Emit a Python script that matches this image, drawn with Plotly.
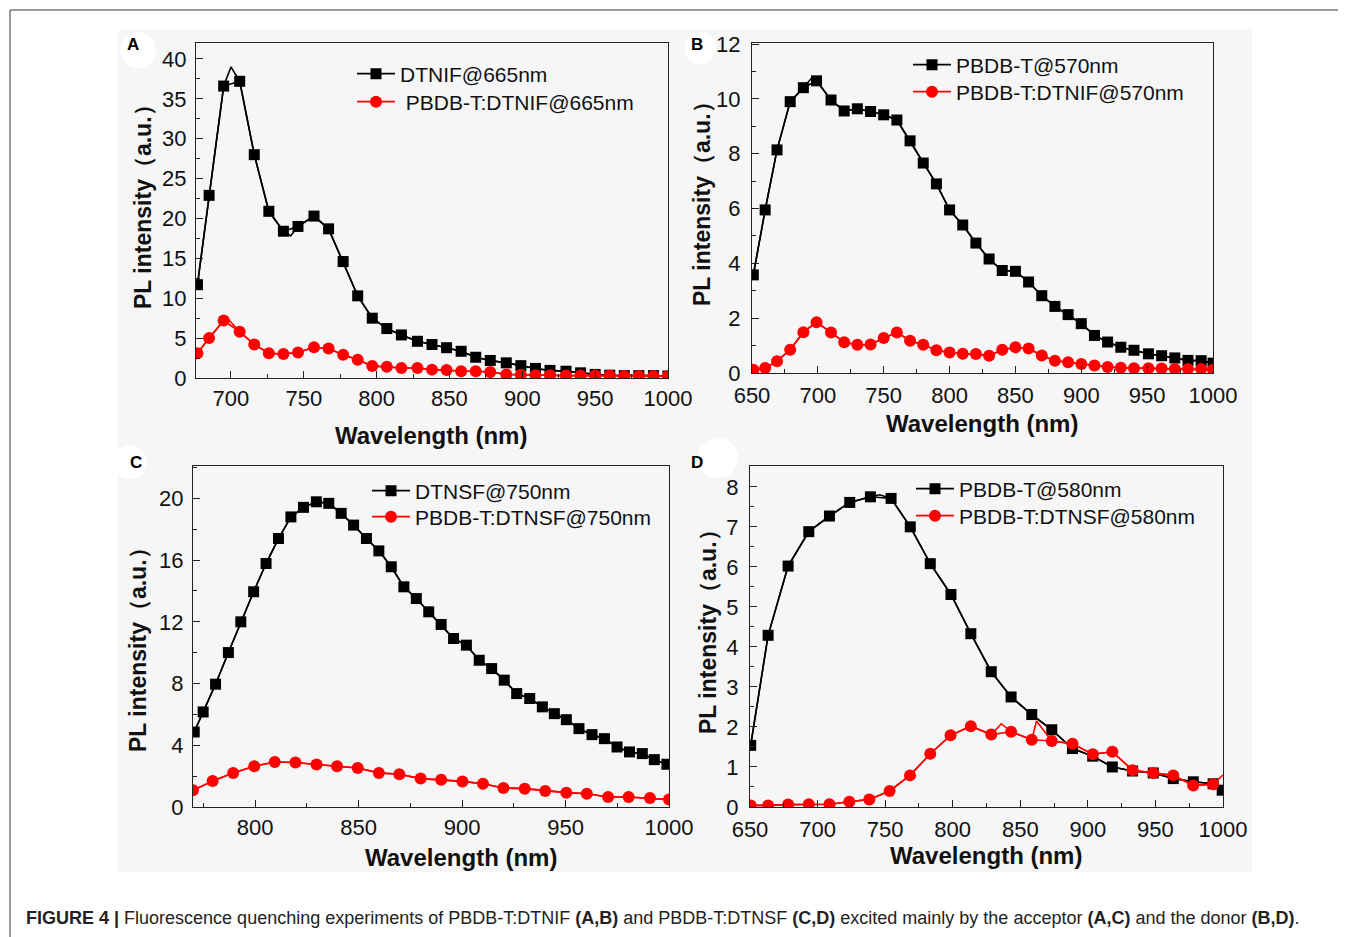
import plotly.graph_objects as go

W, H = 1346, 937
OFF = 8  # the page body adds an 8 px margin around the figure

# ---------------- data ----------------
# Panel A : DTNIF excited at 665 nm
a_x = [677, 685, 695, 706, 716, 726, 736, 746, 757, 767, 777, 787, 797, 807, 817, 828, 838,
       848, 858, 868, 878, 889, 899, 909, 919, 930, 940, 950, 960, 970, 980, 990, 1000]
a_black = [11.7, 22.9, 36.6, 37.2, 28.0, 20.9, 18.4, 19.0, 20.3, 18.7, 14.6, 10.3, 7.5, 6.2, 5.4,
           4.6, 4.2, 3.8, 3.35, 2.6, 2.2, 1.9, 1.55, 1.2, 0.95, 0.85, 0.65, 0.45, 0.35, 0.3, 0.3,
           0.3, 0.25]
a_red = [3.1, 5.0, 7.2, 5.8, 4.2, 3.1, 3.0, 3.2, 3.85, 3.7, 2.9, 2.3, 1.5, 1.4, 1.25, 1.25, 1.05,
         1.0, 0.85, 0.85, 0.75, 0.45, 0.4, 0.35, 0.35, 0.3, 0.3, 0.3, 0.3, 0.25, 0.25, 0.25, 0.25]
a_black_peak_x = [700, 741]
a_black_peak_y = [39.0, 17.8]
a_red_peak_x = [697]
a_red_peak_y = [7.6]

# Panel B : PBDB-T excited at 570 nm
b_x = [651, 660, 669, 679, 689, 699, 710, 720, 730, 740, 750, 760, 770, 780, 790, 800, 810, 820,
       830, 840, 850, 860, 870, 880, 890, 900, 910, 920, 930, 940, 951, 961, 971, 981, 991, 1000]
b_black = [3.58, 5.95, 8.14, 9.9, 10.41, 10.66, 9.96, 9.56, 9.64, 9.54, 9.42, 9.23, 8.47, 7.66,
           6.9, 5.95, 5.4, 4.74, 4.16, 3.74, 3.71, 3.32, 2.82, 2.43, 2.13, 1.80, 1.37, 1.13, 0.94,
           0.83, 0.70, 0.63, 0.55, 0.46, 0.45, 0.36]
b_red = [0.12, 0.18, 0.43, 0.85, 1.49, 1.85, 1.48, 1.12, 1.03, 1.04, 1.28, 1.48, 1.18, 1.03, 0.83,
         0.75, 0.70, 0.69, 0.63, 0.85, 0.94, 0.89, 0.64, 0.45, 0.39, 0.33, 0.27, 0.22, 0.19, 0.17,
         0.17, 0.16, 0.15, 0.15, 0.15, 0.12]
b_black_peak_x = [695]
b_black_peak_y = [10.75]

# Panel C : DTNSF excited at 750 nm
c_black_x = [770.6, 774.9, 780.9, 787.1, 793.1, 799.3, 805.3, 811.3, 817.3, 823.4, 829.6, 835.6,
             841.6, 847.6, 853.8, 859.8, 865.8, 871.9, 877.9, 883.9, 889.9, 895.9, 902.1, 908.3,
             914.3, 920.4, 926.4, 932.7, 938.8, 944.6, 950.4, 956.5, 962.8, 968.8, 974.9, 980.9,
             987.1, 992.9, 999]
c_black = [4.86, 6.16, 7.96, 10.01, 12.0, 13.95, 15.78, 17.4, 18.8, 19.42, 19.78, 19.68, 19.03,
           18.27, 17.4, 16.6, 15.57, 14.27, 13.51, 12.65, 11.83, 10.92, 10.49, 9.51, 8.97, 8.22,
           7.35, 7.03, 6.49, 6.05, 5.66, 5.08, 4.69, 4.43, 3.89, 3.57, 3.46, 3.07, 2.77]
c_red_x = [770, 779.5, 789.4, 799.6, 809.5, 819.5, 829.7, 839.6, 849.6, 859.8, 869.7, 880, 889.9,
           900.2, 910.1, 920, 930.3, 940.2, 950.4, 960.3, 970.6, 980.5, 990.8, 1000]
c_red = [1.08, 1.69, 2.21, 2.64, 2.92, 2.88, 2.75, 2.64, 2.53, 2.21, 2.12, 1.84, 1.77, 1.66, 1.51,
         1.23, 1.19, 1.04, 0.93, 0.86, 0.65, 0.65, 0.58, 0.48]

# Panel D : PBDB-T excited at 580 nm
d_black_x = [650.5, 663.4, 678.2, 693.5, 708.8, 723.8, 739.1, 754.4, 768.6, 783.4, 798.7, 813.4,
             828.5, 843.2, 858.5, 873.3, 888.6, 903.6, 918.1, 933.1, 948.4, 963.2, 978, 992.7, 999.4]
d_black = [1.54, 4.29, 6.02, 6.88, 7.27, 7.61, 7.75, 7.71, 7.0, 6.08, 5.31, 4.33, 3.38, 2.75, 2.31,
           1.93, 1.46, 1.27, 1.0, 0.9, 0.85, 0.71, 0.63, 0.58, 0.42]
d_red_x = [650.5, 663.4, 678.2, 693.5, 708.8, 723.5, 738.3, 753.3, 768.4, 783.4, 798.4, 813.4,
           828.5, 843.2, 858.5, 873.3, 888.6, 903.6, 918.1, 933.1, 948.4, 963.2, 978, 992.7]
d_red = [0.04, 0.04, 0.06, 0.07, 0.07, 0.13, 0.19, 0.40, 0.79, 1.33, 1.79, 2.02, 1.81, 1.88, 1.68,
         1.65, 1.58, 1.32, 1.38, 0.92, 0.85, 0.79, 0.54, 0.57]
d_black_peak_x = [746]
d_black_peak_y = [7.8]
d_red_peak_x = [836, 862, 1000]
d_red_peak_y = [2.08, 2.15, 0.8]

legend_names = {
    "A": ["DTNIF@665nm", " PBDB-T:DTNIF@665nm"],
    "B": ["PBDB-T@570nm", "PBDB-T:DTNIF@570nm"],
    "C": ["DTNSF@750nm", "PBDB-T:DTNSF@750nm"],
    "D": ["PBDB-T@580nm", "PBDB-T:DTNSF@580nm"],
}

# ---------------- helpers ----------------
def px(x):
    return (x - OFF) / W


def py(y):
    return 1 - (y - OFF) / H


def merged(xs, ys, ex, ey):
    pts = sorted(list(zip(xs, ys)) + list(zip(ex, ey)))
    return [p[0] for p in pts], [p[1] for p in pts]


FONT = "Arial, Liberation Sans, sans-serif"
BLACK = "#000000"
RED = "#ff0000"

fig = go.Figure()

# panel definitions: pixel boxes (left, right, top, bottom)
panels = {
    "A": dict(box=(196, 668, 43, 378), xr=[676, 1000], yr=[0, 42], xd=50, x0=700, xm=25,
              yd=5, ym=2.5, ax="x", ay="y", xso=0, yso=4),
    "B": dict(box=(752, 1213, 43, 373), xr=[650, 1000], yr=[0, 12.04], xd=50, x0=650, xm=25,
              yd=2, ym=1, ax="x2", ay="y2", xso=2, yso=6),
    "C": dict(box=(193, 669, 466, 807), xr=[770, 1000], yr=[0, 22.1], xd=50, x0=800, xm=25,
              yd=4, ym=2, ax="x3", ay="y3", xso=0, yso=4),
    "D": dict(box=(750, 1223, 466, 807), xr=[650, 1000], yr=[0, 8.52], xd=50, x0=650, xm=25,
              yd=1, ym=0.5, ax="x4", ay="y4", xso=2, yso=6),
}

series = {
    "A": [(a_x, a_black, a_black_peak_x, a_black_peak_y),
          (a_x, a_red, a_red_peak_x, a_red_peak_y)],
    "B": [(b_x, b_black, b_black_peak_x, b_black_peak_y),
          (b_x, b_red, [], [])],
    "C": [(c_black_x, c_black, [], []),
          (c_red_x, c_red, [], [])],
    "D": [(d_black_x, d_black, d_black_peak_x, d_black_peak_y),
          (d_red_x, d_red, d_red_peak_x, d_red_peak_y)],
}

# legend item positions: (symbol start x, row centre y) for black and red rows
legend_pos = {
    "A": [(357, 74), (357, 102)],
    "B": [(913, 65), (913, 92)],
    "C": [(372, 491), (372, 517)],
    "D": [(916, 489), (916, 516)],
}

layout = dict(width=W, height=H, margin=dict(l=0, r=0, t=0, b=0, pad=0, autoexpand=False),
              template="none", autosize=False,
              paper_bgcolor="white", plot_bgcolor="rgba(0,0,0,0)",
              font=dict(family=FONT, color="#111111", size=21), showlegend=True)

lg_index = 1
for key, p in panels.items():
    for i, (xs, ys, ex, ey) in enumerate(series[key]):
        color = BLACK if i == 0 else RED
        lx, ly = merged(xs, ys, ex, ey)
        lg = "legend" if lg_index == 1 else "legend%d" % lg_index
        # underlying spectrum line
        fig.add_trace(go.Scatter(x=lx, y=ly, mode="lines", line=dict(color=color, width=1.6),
                                 xaxis=p["ax"], yaxis=p["ay"], showlegend=False,
                                 hoverinfo="skip", cliponaxis=True))
        # symbols
        fig.add_trace(go.Scatter(
            x=xs, y=ys, mode="lines+markers", name=legend_names[key][i],
            line=dict(color=color, width=1.6),
            marker=dict(symbol="square" if i == 0 else "circle", size=11 if i == 0 else 12,
                        color=color, line=dict(width=0)),
            xaxis=p["ax"], yaxis=p["ay"], legend=lg, cliponaxis=True))
        sx, sy = legend_pos[key][i]
        layout[lg] = dict(x=px(sx - 5), y=py(sy), xanchor="left", yanchor="middle",
                          bgcolor="rgba(0,0,0,0)", borderwidth=0,
                          font=dict(family=FONT, size=21, color="#111111"),
                          itemwidth=38, tracegroupgap=0, itemclick=False)
        lg_index += 1

for key, p in panels.items():
    l, r, t, b = p["box"]
    xname = "xaxis" if p["ax"] == "x" else "xaxis" + p["ax"][1:]
    yname = "yaxis" if p["ay"] == "y" else "yaxis" + p["ay"][1:]
    common = dict(showline=True, linecolor="#222222", linewidth=1.4, mirror=True,
                  ticks="inside", ticklen=7, tickwidth=1.3, tickcolor="#222222",
                  showgrid=False, zeroline=False, automargin=False,
                  tickfont=dict(family=FONT, size=22, color="#111111"))
    layout[xname] = dict(common, domain=[px(l), px(r)], range=p["xr"], tick0=p["x0"],
                         dtick=p["xd"], anchor=p["ay"],
                         minor=dict(ticks="inside", ticklen=4, tickwidth=1.2,
                                    tickcolor="#222222", dtick=p["xm"], tick0=p["x0"],
                                    showgrid=False),
                         ticklabelstandoff=p["xso"])
    layout[yname] = dict(common, domain=[py(b), py(t)], range=p["yr"], tick0=0,
                         dtick=p["yd"], anchor=p["ax"],
                         minor=dict(ticks="inside", ticklen=4, tickwidth=1.2,
                                    tickcolor="#222222", dtick=p["ym"], tick0=0,
                                    showgrid=False),
                         ticklabelstandoff=p["yso"])

fig.update_layout(**layout)

# background of the picture area, frame and white blobs
shapes = [
    dict(type="rect", xref="paper", yref="paper", x0=px(118), x1=px(1252), y0=py(872), y1=py(30),
         fillcolor="#f6f6f6", line=dict(width=0), layer="below"),
    dict(type="line", xref="paper", yref="paper", x0=px(10), x1=1, y0=py(10), y1=py(10),
         line=dict(color="#777777", width=1.5)),
    dict(type="line", xref="paper", yref="paper", x0=px(10), x1=px(10), y0=py(10), y1=0,
         line=dict(color="#777777", width=1.5)),
]
for cx, cy, rr in [(138, 50, 18), (700, 48, 16), (130, 462, 17), (718, 458, 20)]:
    shapes.append(dict(type="circle", xref="paper", yref="paper", x0=px(cx - rr), x1=px(cx + rr),
                       y0=py(cy + rr), y1=py(cy - rr), fillcolor="white", line=dict(width=0),
                       layer="below"))
fig.update_layout(shapes=shapes)

ann = []
# panel letters
for lab, (lx, ly) in {"A": (133, 45), "B": (697, 45), "C": (136, 462), "D": (697, 462)}.items():
    ann.append(dict(text="<b>%s</b>" % lab, x=px(lx), y=py(ly), xref="paper", yref="paper",
                    showarrow=False, xanchor="center", yanchor="middle",
                    font=dict(family=FONT, size=17, color="#000000")))
# axis titles
for (xx, yy) in [(431, 436), (982, 423), (461, 857), (986, 855)]:
    ann.append(dict(text="<b>Wavelength (nm)</b>", x=px(xx), y=py(yy), xref="paper",
                    yref="paper", showarrow=False, xanchor="center", yanchor="middle",
                    font=dict(family=FONT, size=24, color="#111111")))
for (xx, yy) in [(143, 201), (702, 198), (138, 644), (708, 626)]:
    ann.append(dict(text="<b>PL intensity（a.u.）</b>", x=px(xx), y=py(yy), xref="paper",
                    yref="paper", showarrow=False, xanchor="center", yanchor="middle",
                    textangle=-90, font=dict(family=FONT, size=23, color="#111111")))
# caption
ann.append(dict(text="<b>FIGURE 4 |</b> Fluorescence quenching experiments of PBDB-T:DTNIF <b>(A,B)</b> "
                     "and PBDB-T:DTNSF <b>(C,D)</b> excited mainly by the acceptor <b>(A,C)</b> "
                     "and the donor <b>(B,D)</b>.",
                x=px(24), y=py(918), xref="paper", yref="paper", showarrow=False,
                xanchor="left", yanchor="middle",
                font=dict(family=FONT, size=18, color="#222222")))
fig.update_layout(annotations=ann)

fig.write_html("out.html")
